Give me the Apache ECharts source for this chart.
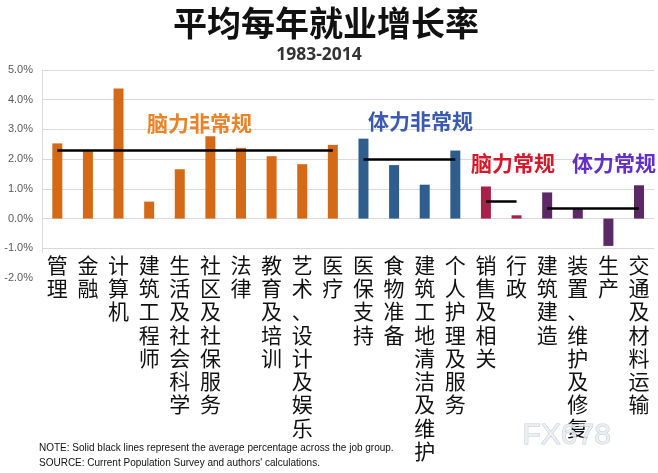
<!DOCTYPE html>
<html><head><meta charset="utf-8">
<script src="https://cdn.jsdelivr.net/npm/echarts@6/dist/echarts.min.js"></script>
<style>html,body{margin:0;padding:0;background:#fff}#c{width:658px;height:473px}</style>
</head><body><div id="c"></div>
<script>
const categories = ['管理','金融','计算机','建筑工程师','生活及社会科学','社区及社保服务','法律','教育及培训','艺术、设计及娱乐','医疗','医保支持','食物准备','建筑工地清洁及维护','个人护理及服务','销售及相关','行政','建筑建造','装置、维护及修复','生产','交通及材料运输'];
const cognitiveNonRoutine = [2.53,2.31,4.38,0.57,1.66,2.77,2.38,2.10,1.83,2.48];
const manualNonRoutine = [2.69,1.80,1.14,2.29];
const cognitiveRoutine = [1.08,0.11];
const manualRoutine = [0.88,0.35,-0.92,1.12];
const groupAverages = [2.31,1.99,0.58,0.36];
const groupNames = ['脑力非常规','体力非常规','脑力常规','体力常规'];
const yTicks = [-2,-1,0,1,2,3,4,5];

const groups = [cognitiveNonRoutine, manualNonRoutine, cognitiveRoutine, manualRoutine];
const barColors = ['#D46A17','#2F5E8E','#A5224A','#5C2866'];
const series = [];
let start = 0;
groups.forEach((vals, gi) => {
  const data = categories.map((c, i) => (i >= start && i < start + vals.length) ? vals[i - start] : null);
  const first = categories[start], last = categories[start + vals.length - 1];
  series.push({
    type: 'bar', name: groupNames[gi], data: data, barWidth: 10, barGap: '-100%',
    itemStyle: {color: barColors[gi]},
    markLine: {
      silent: true, symbol: 'none', label: {show: false},
      lineStyle: {color: '#000', width: 2.5, type: 'solid'},
      data: [[{coord: [first, groupAverages[gi]]}, {coord: [last, groupAverages[gi]]}]]
    }
  });
  start += vals.length;
});

const chart = echarts.init(document.getElementById('c'));
chart.setOption({
  backgroundColor: '#fff',
  animation: false,
  title: [
    {text: '平均每年就业增长率', left: 321, top: 1, textAlign: 'center',
     textStyle: {fontFamily: 'Noto Sans CJK SC', fontSize: 34, fontWeight: 'bold', color: '#111'}},
    {text: '1983-2014', left: 314, top: 41, textAlign: 'center',
     textStyle: {fontFamily: 'Open Sans', fontSize: 17.5, fontWeight: 'bold', color: '#333'}}
  ],
  grid: {left: 42, right: 3, top: 70, bottom: 195, containLabel: false},
  xAxis: {
    type: 'category', data: categories,
    axisLine: {show: false}, axisTick: {show: false},
    axisLabel: {
      interval: 0, margin: -25, formatter: v => v.split('').join('\n'),
      fontFamily: 'Noto Sans CJK SC', fontSize: 21, lineHeight: 23.3, color: '#111',
      backgroundColor: '#fff', width: 32, align: 'center', verticalAlign: 'top'
    }
  },
  yAxis: {
    type: 'value', min: yTicks[0], max: yTicks[yTicks.length - 1], interval: 1,
    axisLine: {show: true, lineStyle: {color: '#D9D9D9'}}, axisTick: {show: false},
    splitLine: {lineStyle: {color: '#D9D9D9', width: 1}},
    axisLabel: {formatter: v => v.toFixed(1) + '%', fontFamily: 'Liberation Sans', fontSize: 11, color: '#595959', margin: 9}
  },
  series: series,
  graphic: [
    {type: 'text', left: 147, top: 113, z: 100, style: {text: groupNames[0], fontFamily: 'Noto Sans CJK SC', fontSize: 21, fontWeight: 'bold', fill: '#E8832A'}},
    {type: 'text', left: 368, top: 111, z: 100, style: {text: groupNames[1], fontFamily: 'Noto Sans CJK SC', fontSize: 21, fontWeight: 'bold', fill: '#3B5BB3'}},
    {type: 'text', left: 471, top: 153, z: 100, style: {text: groupNames[2], fontFamily: 'Noto Sans CJK SC', fontSize: 21, fontWeight: 'bold', fill: '#D3192C'}},
    {type: 'text', left: 572, top: 153, z: 100, style: {text: groupNames[3], fontFamily: 'Noto Sans CJK SC', fontSize: 21, fontWeight: 'bold', fill: '#6230C4'}},
    {type: 'text', left: 522, top: 420, z: 100, style: {text: 'FX678', fontFamily: 'Liberation Sans', fontSize: 30, fill: 'rgba(235,238,242,0.85)', stroke: 'rgba(190,198,210,0.9)', lineWidth: 1}},
    {type: 'text', left: 39, top: 443, z: 100, style: {text: 'NOTE: Solid black lines represent the average percentage across the job group.', fontFamily: 'Liberation Sans', fontSize: 10, fill: '#111'}},
    {type: 'text', left: 39, top: 458, z: 100, style: {text: "SOURCE: Current Population Survey and authors' calculations.", fontFamily: 'Liberation Sans', fontSize: 10, fill: '#111'}}
  ]
});
</script></body></html>
